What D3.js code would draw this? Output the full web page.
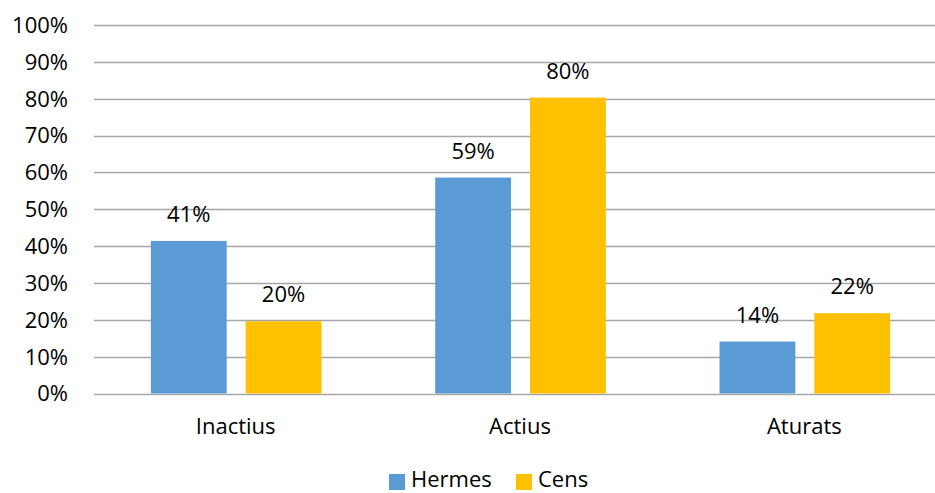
<!DOCTYPE html>
<html><head><meta charset="utf-8">
<script src="https://cdn.jsdelivr.net/npm/d3@7"></script>
<style>
html,body{margin:0;padding:0;background:#fff;}
svg{display:block;}
text{font-family:"Open Sans",sans-serif;fill:#000;}
</style></head>
<body>
<svg id="chart" width="935" height="493"></svg>
<script>
const categories = ["Inactius", "Actius", "Aturats"];
const seriesNames = ["Hermes", "Cens"];
const hermes = [0.414, 0.586, 0.141];
const cens = [0.196, 0.803, 0.218];
const valueLabels = [["41%", "20%"], ["59%", "80%"], ["14%", "22%"]];
const yTicks = [0, 0.1, 0.2, 0.3, 0.4, 0.5, 0.6, 0.7, 0.8, 0.9, 1.0];
const colors = ["#5B9BD5", "#FFC000"];

const svg = d3.select("#chart");
const mLeft = 94, mRight = 947, mTop = 25, mBottom = 393.5;
const fs = 22;

const x = d3.scaleBand().domain(categories).range([mLeft, mRight]).paddingInner(0).paddingOuter(0);
const y = d3.scaleLinear().domain([0, 1]).range([mBottom, mTop]);
const barW = x.bandwidth() / 3.75;
const gap = barW * 0.25;
const xs = d3.scaleBand().domain(seriesNames).range([0, 2 * barW + gap]).paddingInner(gap / (barW + gap)).paddingOuter(0);

// gridlines
svg.append("g").selectAll("line").data(yTicks).join("line")
  .attr("x1", mLeft).attr("x2", 935)
  .attr("y1", d => Math.round(y(d)) + 0.5).attr("y2", d => Math.round(y(d)) + 0.5)
  .attr("stroke", "#a6a6a6").attr("stroke-width", 1.3);

// y tick labels
const fmt = d3.format(".0%");
svg.append("g").selectAll("text").data(yTicks).join("text")
  .attr("x", 68).attr("y", d => y(d)).attr("dy", "0.36em")
  .attr("text-anchor", "end").attr("font-size", fs)
  .text(d => fmt(d));

const data = categories.map((c, i) => ({cat: c, vals: [hermes[i], cens[i]], labels: valueLabels[i]}));

const groups = svg.append("g").selectAll("g").data(data).join("g")
  .attr("transform", d => `translate(${x(d.cat) + (x.bandwidth() - (2 * barW + gap)) / 2},0)`);

groups.selectAll("rect").data(d => d.vals.map((v, j) => ({v, s: seriesNames[j], j}))).join("rect")
  .attr("x", d => xs(d.s)).attr("width", xs.bandwidth())
  .attr("y", d => y(d.v)).attr("height", d => y(0) - y(d.v))
  .attr("fill", d => colors[d.j]);

groups.selectAll("text").data(d => d.vals.map((v, j) => ({v, s: seriesNames[j], lab: d.labels[j]}))).join("text")
  .attr("x", d => xs(d.s) + xs.bandwidth() / 2).attr("y", d => y(d.v) - 19)
  .attr("text-anchor", "middle").attr("font-size", fs)
  .text(d => d.lab);

// category labels
svg.append("g").selectAll("text").data(categories).join("text")
  .attr("x", d => x(d) + x.bandwidth() / 2 - 0.5).attr("y", 434)
  .attr("text-anchor", "middle").attr("font-size", fs)
  .text(d => d);

// legend
const legend = svg.append("g");
const legendX = [389, 516];
seriesNames.forEach((s, i) => {
  legend.append("rect").attr("x", legendX[i]).attr("y", 474).attr("width", 16).attr("height", 16).attr("fill", colors[i]);
  legend.append("text").attr("x", legendX[i] + 22).attr("y", 487).attr("font-size", fs).text(s);
});
</script>
</body></html>
